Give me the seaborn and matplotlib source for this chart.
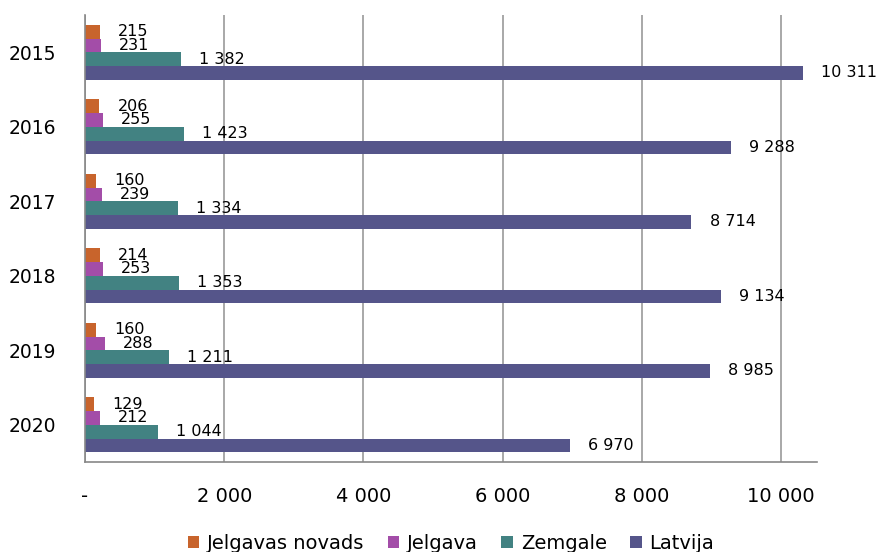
import numpy as np
import pandas as pd
import seaborn as sns
import matplotlib.pyplot as plt

years = ["2015", "2016", "2017", "2018", "2019", "2020"]
series = ["Jelgavas novads", "Jelgava", "Zemgale", "Latvija"]
jelgavas_novads = [215, 206, 160, 214, 160, 129]
jelgava = [231, 255, 239, 253, 288, 212]
zemgale = [1382, 1423, 1334, 1353, 1211, 1044]
latvija = [10311, 9288, 8714, 9134, 8985, 6970]
colors = ["#C8642C", "#A34DA8", "#428282", "#55558A"]

df = pd.DataFrame({
    "year": years * 4,
    "series": np.repeat(series, len(years)),
    "value": jelgavas_novads + jelgava + zemgale + latvija,
})

sns.set_style("white")
plt.rcParams["font.family"] = ["DejaVu Sans"]
plt.rcParams["text.color"] = "black"
plt.rcParams["xtick.labelcolor"] = "black"
plt.rcParams["ytick.labelcolor"] = "black"

fig = plt.figure(figsize=(8.78, 5.52), dpi=100)
ax = fig.add_axes([0.0968, 0.163, 0.8337, 0.8097])

sns.barplot(data=df, y="year", x="value", hue="series", hue_order=series,
            order=years, palette=colors, width=0.74, orient="h", ax=ax,
            saturation=1, linewidth=0, legend=True)

def fmt(v):
    return f"{v:,.0f}".replace(",", " ")

for c in ax.containers:
    ax.bar_label(c, labels=[fmt(v) for v in c.datavalues], padding=13,
                 fontsize=11.5, color="black")

ax.set_xlim(0, 10517)
ax.set_ylim(5.5, -0.5)
ax.set_xticks([0, 2000, 4000, 6000, 8000, 10000])
ax.set_xticklabels(["-", "2 000", "4 000", "6 000", "8 000", "10 000"])
ax.set_yticks(range(len(years)))
ax.set_yticklabels(years)
ax.set_yticks(np.arange(-0.5, 6, 1), minor=True)
ax.tick_params(axis="y", which="major", length=0, pad=21, labelsize=13.5)
ax.tick_params(axis="y", which="minor", length=7, color="#888888", width=1.2)
ax.tick_params(axis="x", length=6, color="#888888", width=1.2, pad=12, labelsize=14)
ax.set_xlabel("")
ax.set_ylabel("")

ax.grid(axis="x", color="#999999", linewidth=1.2)
ax.set_axisbelow(True)
for s in ["top", "right"]:
    ax.spines[s].set_visible(False)
for s in ["left", "bottom"]:
    ax.spines[s].set_color("#888888")
    ax.spines[s].set_linewidth(1.2)

ax.legend(loc="lower center", bbox_to_anchor=(0.5, -0.22), ncol=4,
          frameon=False, fontsize=14, handlelength=0.6, handleheight=0.6,
          handletextpad=0.4, columnspacing=1.2, borderaxespad=0)

fig.savefig("out.png", dpi=100)
